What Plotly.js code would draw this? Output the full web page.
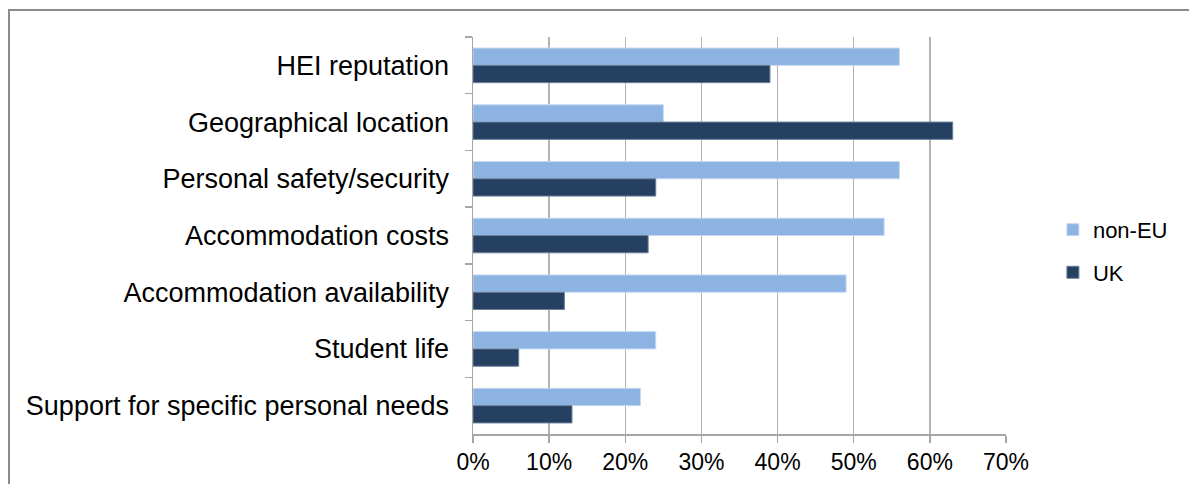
<!DOCTYPE html>
<html>
<head>
<meta charset="utf-8">
<script src="https://cdn.plot.ly/plotly-3.0.1.min.js"></script>
<style>
  html, body { margin: 0; padding: 0; background: #fff; }
  #frame { position: absolute; left: 8px; top: 9px; width: 1300px; height: 600px;
           border-top: 2px solid #8c8c8c; border-left: 2px solid #8c8c8c; }
  #chart { position: absolute; left: 0; top: 0; width: 1189px; height: 484px; }
</style>
</head>
<body>
<div id="frame"></div>
<div id="chart"></div>
<script>
const categories = [
  "HEI reputation",
  "Geographical location",
  "Personal safety/security",
  "Accommodation costs",
  "Accommodation availability",
  "Student life",
  "Support for specific personal needs"
];
const nonEU = [0.56, 0.25, 0.56, 0.54, 0.49, 0.24, 0.22];
const UK    = [0.39, 0.63, 0.24, 0.23, 0.12, 0.06, 0.13];
const seriesNames = ["non-EU", "UK"];
const xTickVals = [0, 0.1, 0.2, 0.3, 0.4, 0.5, 0.6, 0.7];

const traces = [
  { type: "bar", orientation: "h", name: seriesNames[0], y: categories, x: nonEU,
    marker: { color: "#8DB3E2", line: { color: "#C6D9F1", width: 1 } },
    legendgroup: "a", hoverinfo: "x+y" },
  { type: "bar", orientation: "h", name: seriesNames[1], y: categories, x: UK,
    marker: { color: "#254061", line: { color: "#6B7F99", width: 1 } },
    legendgroup: "b", hoverinfo: "x+y" }
];

const layout = {
  width: 1189, height: 484,
  margin: { l: 473, r: 183, t: 37, b: 50, pad: 0 },
  paper_bgcolor: "rgba(0,0,0,0)", plot_bgcolor: "rgba(0,0,0,0)",
  font: { family: "Liberation Sans, Arial, sans-serif", color: "#000" },
  barmode: "group", bargap: 0.39, bargroupgap: 0,
  showlegend: true,
  legend: { x: 1.088, xanchor: "left", y: 0.46, yanchor: "middle",
            font: { size: 22, color: "#000" }, traceorder: "grouped",
            tracegroupgap: 11, bgcolor: "rgba(0,0,0,0)" },
  xaxis: {
    range: [0, 0.7], tickvals: xTickVals, tickformat: ".0%",
    showgrid: true, gridcolor: "#b3b3b3", gridwidth: 1.5,
    showline: true, linecolor: "#a6a6a6", linewidth: 1.5,
    ticks: "outside", ticklen: 7, tickcolor: "#a6a6a6", tickwidth: 1.5,
    tickfont: { size: 23, color: "#000" }, zeroline: false, fixedrange: true
  },
  yaxis: {
    type: "category", categoryorder: "array", categoryarray: categories,
    autorange: "reversed",
    showgrid: false, showline: true, linecolor: "#a6a6a6", linewidth: 1.5,
    ticks: "outside", tickson: "boundaries", ticklen: 7, tickcolor: "#a6a6a6", tickwidth: 1.5,
    ticklabelstandoff: 17,
    tickfont: { size: 27, color: "#000" }, fixedrange: true
  }
};

Plotly.newPlot("chart", traces, layout, { displayModeBar: false, staticPlot: true });
</script>
</body>
</html>
